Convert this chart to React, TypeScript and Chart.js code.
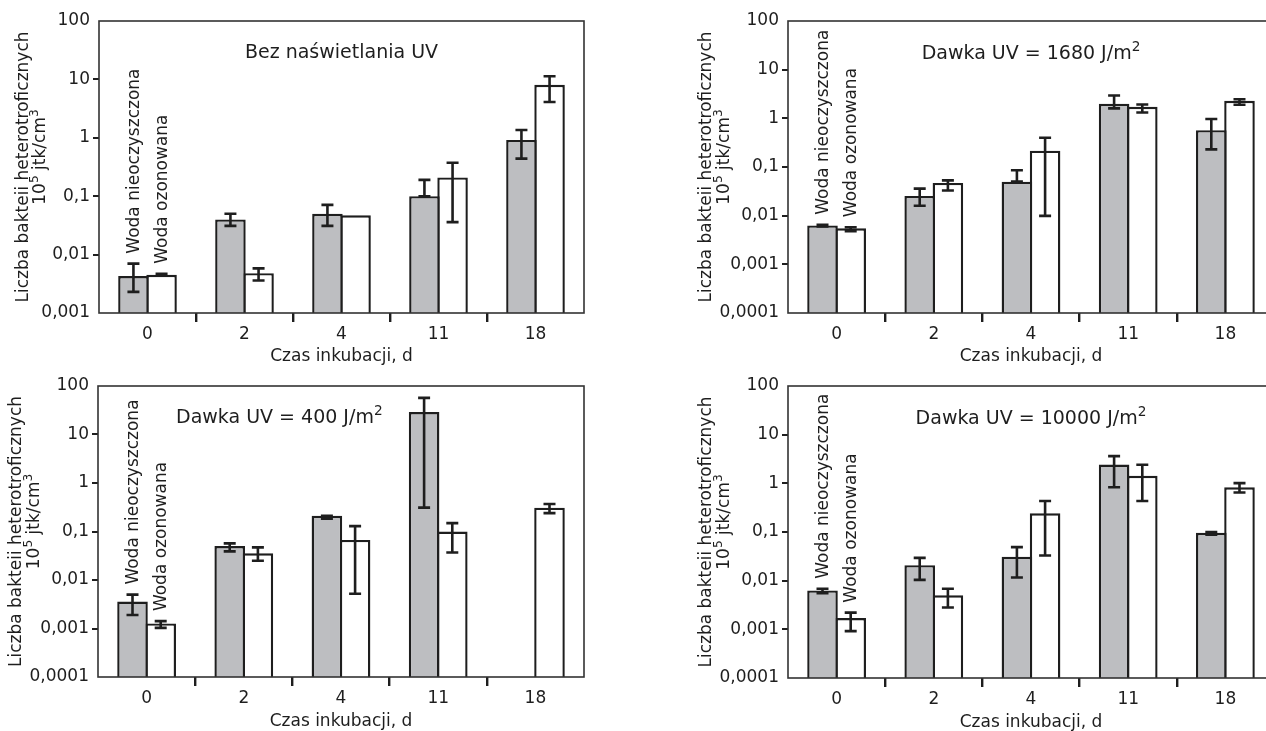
import React, { useEffect, useRef } from 'react';
import { Chart, registerables } from 'chart.js';

Chart.register(...registerables);

// ---------- data ----------
const categories = ['0', '2', '4', '11', '18'];
const seriesNames = ['Woda nieoczyszczona', 'Woda ozonowana'];
const xAxisTitle = 'Czas inkubacji, d';
const yTitleLine1 = 'Liczba bakteii heterotroficznych';
const yTitleLine2 = [{ t: '10' }, { t: '5', sup: true }, { t: ' jtk/cm' }, { t: '3', sup: true }];

const yTicksA = [0.001, 0.01, 0.1, 1, 10, 100];
const yTickLabelsA = ['0,001', '0,01', '0,1', '1', '10', '100'];
const yTicksB = [0.0001, 0.001, 0.01, 0.1, 1, 10, 100];
const yTickLabelsB = ['0,0001', '0,001', '0,01', '0,1', '1', '10', '100'];

// Panel 1: Bez naświetlania UV
const p1Title = [{ t: 'Bez naświetlania UV' }];
const p1Raw = [0.0043, 0.040, 0.050, 0.100, 0.92];
const p1RawHigh = [0.0070, 0.050, 0.071, 0.19, 1.36];
const p1RawLow = [0.0023, 0.031, 0.031, 0.100, 0.44];
const p1Oz = [0.0045, 0.0048, 0.047, 0.21, 8.1];
const p1OzHigh = [0.0047, 0.0058, null, 0.375, 11.3];
const p1OzLow = [0.0044, 0.0036, null, 0.036, 4.1];

// Panel 2: Dawka UV = 1680 J/m2
const p2Title = [{ t: 'Dawka UV = 1680 J/m' }, { t: '2', sup: true }];
const p2Raw = [0.0063, 0.0255, 0.050, 1.99, 0.57];
const p2RawHigh = [0.0065, 0.036, 0.086, 2.95, 0.97];
const p2RawLow = [0.0060, 0.016, 0.050, 1.6, 0.23];
const p2Oz = [0.0055, 0.047, 0.217, 1.73, 2.30];
const p2OzHigh = [0.0058, 0.053, 0.40, 1.93, 2.46];
const p2OzLow = [0.0048, 0.033, 0.0099, 1.32, 1.9];

// Panel 3: Dawka UV = 400 J/m2
const p3Title = [{ t: 'Dawka UV = 400 J/m' }, { t: '2', sup: true }];
const p3Raw = [0.0036, 0.050, 0.21, 29, null];
const p3RawHigh = [0.0050, 0.057, 0.21, 57, null];
const p3RawLow = [0.0019, 0.039, 0.183, 0.31, null];
const p3Oz = [0.00127, 0.0356, 0.067, 0.10, 0.31];
const p3OzHigh = [0.00142, 0.047, 0.129, 0.149, 0.368];
const p3OzLow = [0.00103, 0.025, 0.0052, 0.037, 0.239];

// Panel 4: Dawka UV = 10000 J/m2
const p4Title = [{ t: 'Dawka UV = 10000 J/m' }, { t: '2', sup: true }];
const p4Raw = [0.0063, 0.0208, 0.031, 2.44, 0.096];
const p4RawHigh = [0.0068, 0.0294, 0.049, 3.62, 0.10];
const p4RawLow = [0.0055, 0.0104, 0.0116, 0.83, 0.088];
const p4Oz = [0.0017, 0.0050, 0.242, 1.43, 0.83];
const p4OzHigh = [0.0022, 0.0068, 0.433, 2.41, 1.01];
const p4OzLow = [0.00092, 0.0028, 0.033, 0.433, 0.65];

// ---------- style ----------
const FONT = '"DejaVu Sans", "Liberation Sans", sans-serif';
const INK = '#1e1e1e';
const GRAY = '#bdbec1';
const CLEAR = 'rgba(0,0,0,0)';

type Seg = { t: string; sup?: boolean };

function richWidth(ctx: CanvasRenderingContext2D, segs: Seg[], size: number) {
  let w = 0;
  for (const s of segs) {
    ctx.font = `${s.sup ? size * 0.72 : size}px ${FONT}`;
    w += ctx.measureText(s.t).width;
  }
  return w;
}

function drawRich(ctx: CanvasRenderingContext2D, segs: Seg[], x: number, y: number, size: number, align: 'left' | 'center') {
  const w = richWidth(ctx, segs, size);
  let cx = align === 'center' ? x - w / 2 : x;
  ctx.textAlign = 'left';
  ctx.textBaseline = 'middle';
  for (const s of segs) {
    const fs = s.sup ? size * 0.72 : size;
    ctx.font = `${fs}px ${FONT}`;
    ctx.fillText(s.t, cx, s.sup ? y - size * 0.36 : y);
    cx += ctx.measureText(s.t).width;
  }
}

const panels = [
  {
    x: 0, y: 0, w: 620, h: 372, yWidth: 99, top: 21, right: 584, bottom: 313, titleBottomPad: 4.8,
    min: 0.001, ticks: yTicksA, tickLabels: yTickLabelsA,
    title: p1Title, titleAlign: 'center', titleOffsetX: 0, titleDy: 32, yTitle1: 75, yTitle2: 58,
    raw: p1Raw, rawHigh: p1RawHigh, rawLow: p1RawLow, oz: p1Oz, ozHigh: p1OzHigh, ozLow: p1OzLow,
  },
  {
    x: 620, y: 0, w: 680, h: 372, yWidth: 168, top: 21, right: 654, bottom: 313, titleBottomPad: 4.8,
    min: 0.0001, ticks: yTicksB, tickLabels: yTickLabelsB,
    title: p2Title, titleAlign: 'center', titleOffsetX: 0, titleDy: 33, yTitle1: 81, yTitle2: 63,
    raw: p2Raw, rawHigh: p2RawHigh, rawLow: p2RawLow, oz: p2Oz, ozHigh: p2OzHigh, ozLow: p2OzLow,
  },
  {
    x: 0, y: 365, w: 620, h: 372, yWidth: 98, top: 21, right: 584, bottom: 312, titleBottomPad: 4.8,
    min: 0.0001, ticks: yTicksB, tickLabels: yTickLabelsB,
    title: p3Title, titleAlign: 'left', titleOffsetX: 78, titleDy: 32, yTitle1: 81, yTitle2: 63,
    raw: p3Raw, rawHigh: p3RawHigh, rawLow: p3RawLow, oz: p3Oz, ozHigh: p3OzHigh, ozLow: p3OzLow,
  },
  {
    x: 620, y: 365, w: 680, h: 372, yWidth: 168, top: 21, right: 654, bottom: 313, titleBottomPad: 3.8,
    min: 0.0001, ticks: yTicksB, tickLabels: yTickLabelsB,
    title: p4Title, titleAlign: 'center', titleOffsetX: 0, titleDy: 33, yTitle1: 81, yTitle2: 63,
    raw: p4Raw, rawHigh: p4RawHigh, rawLow: p4RawLow, oz: p4Oz, ozHigh: p4OzHigh, ozLow: p4OzLow,
  },
];

const framePlugin = {
  id: 'frame',
  afterDatasetsDraw(chart: any) {
    const { ctx, chartArea: a } = chart;
    ctx.save();
    ctx.strokeStyle = '#333';
    ctx.lineWidth = 1.6;
    ctx.strokeRect(a.left, a.top, a.right - a.left, a.bottom - a.top);
    ctx.restore();
  },
};

const errorBarPlugin = {
  id: 'errorBars',
  afterDatasetsDraw(chart: any) {
    const ctx = chart.ctx;
    const ys = chart.scales.y;
    chart.data.datasets.forEach((ds: any, di: number) => {
      const meta = chart.getDatasetMeta(di);
      (ds.errHigh || []).forEach((hi: number | null, i: number) => {
        const lo = ds.errLow[i];
        if (hi == null || lo == null) return;
        const el = meta.data[i];
        if (!el) return;
        const x = el.x;
        const yh = ys.getPixelForValue(hi);
        const yl = ys.getPixelForValue(lo);
        ctx.save();
        ctx.strokeStyle = INK;
        ctx.lineWidth = 2.6;
        ctx.beginPath();
        ctx.moveTo(x, yh);
        ctx.lineTo(x, yl);
        ctx.moveTo(x - 6, yh);
        ctx.lineTo(x + 6, yh);
        ctx.moveTo(x - 6, yl);
        ctx.lineTo(x + 6, yl);
        ctx.stroke();
        ctx.restore();
      });
    });
  },
};

const textPlugin = {
  id: 'texts',
  afterDraw(chart: any) {
    const { ctx, chartArea: a } = chart;
    const cfg = chart.options.plugins.texts;
    const ys = chart.scales.y;
    ctx.save();
    ctx.fillStyle = INK;
    // in-plot title
    const tx = cfg.titleAlign === 'center' ? (a.left + a.right) / 2 : a.left + cfg.titleOffsetX;
    drawRich(ctx, cfg.title, tx, a.top + cfg.titleDy, 19, cfg.titleAlign);
    // series labels above the first group
    chart.data.datasets.forEach((ds: any, di: number) => {
      const el = chart.getDatasetMeta(di).data[0];
      const hiVal = ds.errHigh[0] != null ? Math.max(ds.errHigh[0], ds.data[0]) : ds.data[0];
      const yTop = ys.getPixelForValue(hiVal) - 10;
      ctx.save();
      ctx.translate(el.x + 1, yTop);
      ctx.rotate(-Math.PI / 2);
      ctx.font = `17px ${FONT}`;
      ctx.textAlign = 'left';
      ctx.textBaseline = 'middle';
      ctx.fillText(ds.label, 0, 0);
      ctx.restore();
    });
    // y-axis title (two lines, rotated)
    const cy = (a.top + a.bottom) / 2;
    ctx.save();
    ctx.translate(a.left - cfg.yTitle1, cy);
    ctx.rotate(-Math.PI / 2);
    ctx.font = `17px ${FONT}`;
    ctx.textAlign = 'center';
    ctx.textBaseline = 'middle';
    ctx.fillText(yTitleLine1, 0, 0);
    ctx.restore();
    ctx.save();
    ctx.translate(a.left - cfg.yTitle2, cy - 10);
    ctx.rotate(-Math.PI / 2);
    drawRich(ctx, yTitleLine2, 0, 0, 17, 'center');
    ctx.restore();
    ctx.restore();
  },
};

function Panel({ cfg }: { cfg: any }) {
  const ref = useRef<HTMLCanvasElement | null>(null);
  useEffect(() => {
    if (!ref.current) return;
    const yMin = cfg.min;
    const yMax = 100;
    const barStyle = {
      borderColor: INK,
      borderWidth: 2.4,
      barPercentage: 1.085,
      categoryPercentage: 0.58,
    };
    const chart = new Chart(ref.current, {
      type: 'bar',
      data: {
        labels: categories,
        datasets: [
          {
            label: seriesNames[0],
            data: cfg.raw,
            backgroundColor: GRAY,
            ...barStyle,
            errHigh: cfg.rawHigh,
            errLow: cfg.rawLow,
          } as any,
          {
            label: seriesNames[1],
            data: cfg.oz,
            backgroundColor: '#ffffff',
            ...barStyle,
            errHigh: cfg.ozHigh,
            errLow: cfg.ozLow,
          } as any,
        ],
      },
      options: {
        responsive: false,
        animation: false,
        layout: { padding: { left: 0, top: cfg.top, right: cfg.w - cfg.right, bottom: 0 } },
        plugins: {
          legend: { display: false },
          tooltip: { enabled: false },
          title: { display: false },
          texts: cfg,
        } as any,
        scales: {
          x: {
            type: 'category',
            offset: true,
            grid: {
              offset: true,
              drawOnChartArea: false,
              drawTicks: true,
              tickLength: 9,
              lineWidth: 2.4,
              color: (c: any) => (c.type === 'tick' && c.index > 0 ? INK : CLEAR),
            },
            border: { display: false },
            ticks: {
              color: INK,
              font: { family: FONT, size: 17 },
              padding: 2,
              maxRotation: 0,
              autoSkip: false,
            },
            title: {
              display: true,
              text: xAxisTitle,
              color: INK,
              font: { family: FONT, size: 17 },
              padding: { top: 0, bottom: cfg.titleBottomPad },
            },
            afterFit: (s: any) => {
              s.height = cfg.h - cfg.bottom;
            },
          },
          y: {
            type: 'logarithmic',
            min: yMin,
            max: yMax,
            afterBuildTicks: (s: any) => {
              s.ticks = cfg.ticks.map((v: number) => ({ value: v }));
            },
            grid: {
              drawOnChartArea: false,
              drawTicks: true,
              tickLength: 6,
              lineWidth: 2,
              color: (c: any) =>
                c.tick && (c.tick.value === yMin || c.tick.value === yMax) ? CLEAR : INK,
            },
            border: { display: false },
            ticks: {
              color: INK,
              font: { family: FONT, size: 17 },
              padding: 3,
              autoSkip: false,
              callback: (_v: any, i: number) => cfg.tickLabels[i],
            },
            afterFit: (s: any) => {
              s.width = cfg.yWidth;
            },
          },
        },
      },
      plugins: [framePlugin, errorBarPlugin, textPlugin],
    });
    return () => chart.destroy();
  }, []);
  return (
    <canvas
      ref={ref}
      width={cfg.w}
      height={cfg.h}
      style={{ position: 'absolute', left: cfg.x, top: cfg.y, width: cfg.w, height: cfg.h }}
    />
  );
}

export default function App() {
  return (
    <div
      style={{
        position: 'fixed',
        left: 0,
        top: 0,
        width: 1266,
        height: 731,
        overflow: 'hidden',
        background: '#ffffff',
      }}
    >
      {panels.map((p, i) => (
        <Panel key={i} cfg={p} />
      ))}
    </div>
  );
}
